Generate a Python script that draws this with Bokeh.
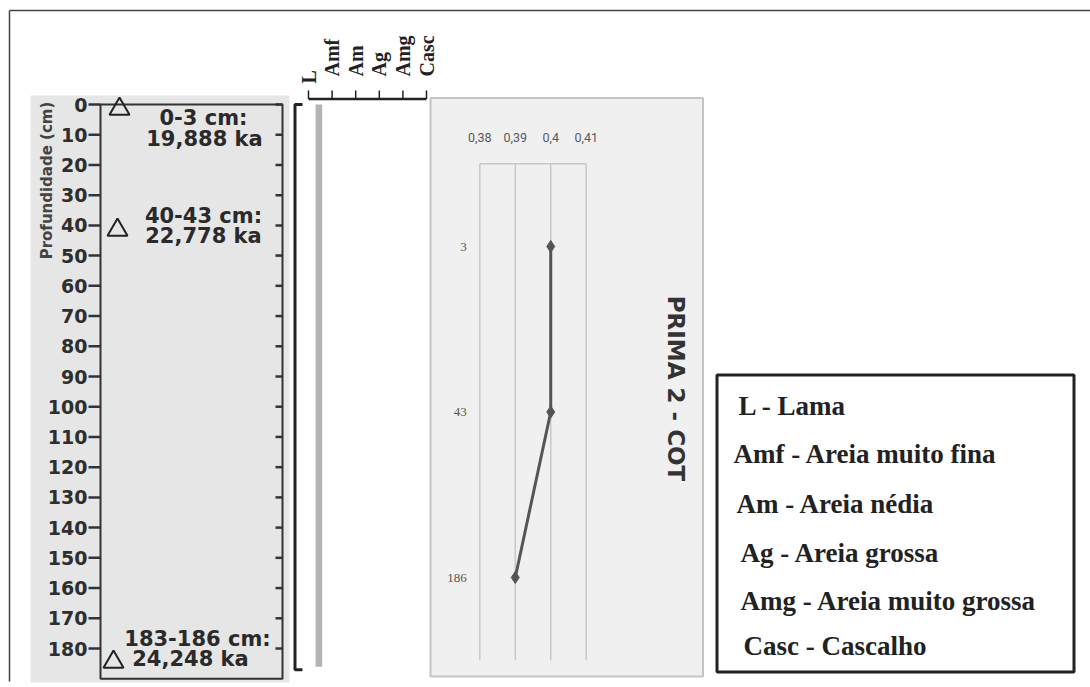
import math
from bokeh.plotting import figure
from bokeh.models import Range1d
from bokeh.core.properties import value
from bokeh.embed import file_html
from bokeh.resources import INLINE

# ---------------- data ----------------
depth_ticks = [0, 10, 20, 30, 40, 50, 60, 70, 80, 90, 100, 110, 120, 130, 140, 150, 160, 170, 180]
dating_top = [0, 40, 183]
dating_bottom = [3, 43, 186]
dating_age = ["19,888 ka", "22,778 ka", "24,248 ka"]
core_top = 0
core_bottom = 186
grain_codes = ["L", "Amf", "Am", "Ag", "Amg", "Casc"]
grain_names = ["Lama", "Areia muito fina", "Areia nédia", "Areia grossa", "Areia muito grossa", "Cascalho"]
cot_samples = ["3", "43", "186"]
cot_values = [0.400, 0.400, 0.390]
cot_ticks = [0.38, 0.39, 0.40, 0.41]
cot_title = "PRIMA 2 - COT"
depth_title = "Profundidade (cm)"

# ---------------- layout helpers ----------------
W, H = 1090, 687
PX0, PX1 = 0, W          # page x of frame left / right
PY_BOT, PY_TOP = H, 0    # page y of frame bottom / top


def rng(v0, p0, v1, p1, pstart, pend):
    k = (v1 - v0) / (p1 - p0)
    return Range1d(start=v0 + (pstart - p0) * k, end=v0 + (pend - p0) * k)


p = figure(width=W, height=H, x_range=Range1d(PX0, PX1), y_range=Range1d(PY_BOT, PY_TOP),
           output_backend="svg", toolbar_location=None, min_border=0,
           x_axis_type=None, y_axis_type=None)
p.grid.visible = False
p.outline_line_color = None
p.background_fill_color = "white"
p.border_fill_color = "white"

p.extra_y_ranges = {
    "depth": rng(0, 104, 180, 648, PY_BOT, PY_TOP),
    "cotidx": rng(0, 246, 2, 577, PY_BOT, PY_TOP),
}
p.extra_x_ranges = {
    "cot": rng(0.38, 479.3, 0.41, 585.7, PX0, PX1),
    "grain": rng(0, 308, 5, 426, PX0, PX1),
}

SANS = value("DejaVu Sans")
SERIF = value("Liberation Serif")

# outer frame
p.segment(x0=[9, 9], y0=[10, 10], x1=[PX1, 9], y1=[10, 681], line_color="#444444", line_width=1.5)

# ---------------- left panel: depth column ----------------
p.quad(left=30, right=289, top=95, bottom=682, fill_color="#e6e6e6", line_color=None)
p.quad(left=100, right=282, top=0, bottom=190, y_range_name="depth",
       fill_color=None, line_color="#333333", line_width=2)
p.segment(x0=88, x1=100, y0=depth_ticks, y1=depth_ticks, y_range_name="depth",
          line_color="#333333", line_width=2.5)
p.segment(x0=275, x1=282, y0=depth_ticks, y1=depth_ticks, y_range_name="depth",
          line_color="#333333", line_width=2.5)
p.text(x=87, y=depth_ticks, text=[str(d) for d in depth_ticks], y_range_name="depth",
       text_align="right", text_baseline="middle", text_font=SANS, text_font_style="bold",
       text_font_size="19px", text_color="#2e2e2e")
p.text(x=[46], y=[180], text=[depth_title], angle=math.pi / 2, text_align="center",
       text_baseline="middle", text_font=SANS, text_font_style="bold",
       text_font_size="15px", text_color="#444444")

mid = [(a + b) / 2 for a, b in zip(dating_top, dating_bottom)]
p.scatter(x=[119, 117, 113], y=mid, y_range_name="depth", marker="triangle", size=20,
          fill_color=None, line_color="#222222", line_width=2)
line1 = [f"{a}-{b} cm:" for a, b in zip(dating_top, dating_bottom)]
p.text(x=[203, 203, 197], y=mid, y_offset=[8.5, -14.4, -23.6], text=line1, y_range_name="depth",
       text_align="center", text_baseline="middle", text_font=SANS, text_font_style="bold",
       text_font_size="21px", text_color="#2a2a2a")
p.text(x=[204, 203, 190], y=mid, y_offset=[29.5, 5.6, -3.6], text=dating_age, y_range_name="depth",
       text_align="center", text_baseline="middle", text_font=SANS, text_font_style="bold",
       text_font_size="21px", text_color="#2a2a2a")

# bracket
p.line(x=[302, 294.5, 294.5, 302], y=[core_top, core_top, core_bottom + 1, core_bottom + 1],
       y_range_name="depth", line_color="#222222", line_width=3)

# ---------------- grain size column ----------------
gi = list(range(len(grain_codes)))
p.line(x=[gi[0], gi[-1]], y=[98.5, 98.5], x_range_name="grain", line_color="#222222", line_width=2.5)
p.segment(x0=gi, x1=gi, y0=90, y1=98.5, x_range_name="grain", line_color="#222222", line_width=1.5)
p.text(x=gi, y=[83, 76, 76, 76, 76, 76], text=grain_codes, x_range_name="grain", angle=math.pi / 2,
       text_align="left", text_baseline="middle", text_font=SERIF, text_font_style="bold",
       text_font_size="20px", text_color="#222222")
p.quad(left=gi[grain_codes.index("L")] + 0.3, right=gi[grain_codes.index("L")] + 0.58,
       top=core_top, bottom=core_bottom, x_range_name="grain", y_range_name="depth",
       fill_color="#b4b4b4", line_color=None)

# ---------------- COT panel ----------------
p.quad(left=430, right=702.5, top=97.5, bottom=676, fill_color="#f0f0f0",
       line_color="#c4c4c4", line_width=2)
ci = list(range(len(cot_samples)))
p.segment(x0=cot_ticks, x1=cot_ticks, y0=-0.5, y1=len(ci) - 0.5, x_range_name="cot",
          y_range_name="cotidx", line_color="#c8c8c8", line_width=1.5)
p.segment(x0=[cot_ticks[0]], x1=[cot_ticks[-1]], y0=[-0.5], y1=[-0.5], x_range_name="cot",
          y_range_name="cotidx", line_color="#c8c8c8", line_width=1.5)
p.text(x=cot_ticks, y=-0.5, y_offset=-26, text=[f"{t:g}".replace(".", ",") for t in cot_ticks],
       x_range_name="cot", y_range_name="cotidx", text_align="center", text_baseline="middle",
       text_font=value("Roboto"), text_font_size="12.5px", text_color="#595959")
p.text(x=cot_ticks[0], y=ci, x_offset=-13, text=cot_samples, x_range_name="cot",
       y_range_name="cotidx", text_align="right", text_baseline="middle",
       text_font=SERIF, text_font_size="13px", text_color="#555555")
p.line(x=cot_values, y=ci, x_range_name="cot", y_range_name="cotidx",
       line_color="#555555", line_width=3)
p.scatter(x=cot_values, y=ci, x_range_name="cot", y_range_name="cotidx", marker="diamond",
          size=12, fill_color="#555555", line_color="#555555")
p.text(x=[675], y=[388], text=[cot_title], angle=-math.pi / 2, text_align="center",
       text_baseline="middle", text_font=SANS, text_font_style="bold",
       text_font_size="23px", text_color="#333333")

# ---------------- legend box ----------------
p.quad(left=716.5, right=1073.5, top=374.5, bottom=671.5, fill_color="white",
       line_color="#222222", line_width=3)
p.text(x=[738, 733, 736, 740, 740, 743], y=[405, 453, 503, 552, 600, 645],
       text=[f"{c} - {n}" for c, n in zip(grain_codes, grain_names)],
       text_align="left", text_baseline="middle", text_font=SERIF, text_font_style="bold",
       text_font_size="27px", text_color="#222222")

open("out.html", "w").write(file_html(p, INLINE))
